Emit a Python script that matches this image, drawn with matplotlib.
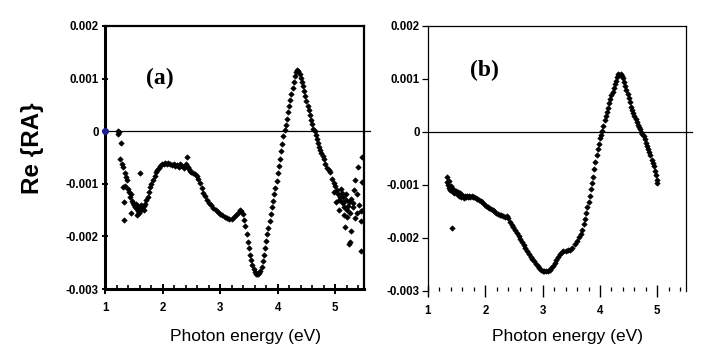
import matplotlib
matplotlib.use("Agg")
import matplotlib.pyplot as plt
from matplotlib.ticker import FixedLocator, MultipleLocator, FuncFormatter

# ---------------- data (Photon energy in eV, Re{RA} in units of 1e-3) --------
energy_a = [
    1.22, 1.23, 1.25, 1.28, 1.26, 1.30, 1.32, 1.35, 1.37, 1.38, 1.31, 1.34, 1.40,
    1.42, 1.43, 1.45, 1.47, 1.33, 1.50, 1.52, 1.53, 1.55, 1.57, 1.58, 1.60, 1.62,
    1.63, 1.65, 1.67, 1.68, 1.70, 1.72, 1.33, 1.61, 1.45, 1.49, 1.56, 1.59, 1.64,
    1.74, 1.76, 1.78, 1.80, 1.83, 1.86, 1.88, 1.90, 1.93, 1.96, 1.99, 2.02, 2.05,
    2.08, 2.10, 2.13, 2.16, 2.19, 2.22, 2.25, 2.28, 2.31, 2.34, 2.37, 2.40, 2.42,
    2.44, 2.46, 2.48, 2.50, 2.53, 2.56, 2.59, 2.62, 2.65, 2.68, 2.71, 2.74, 2.77,
    2.80, 2.84, 2.88, 2.92, 2.96, 3.00, 3.04, 3.08, 3.12, 3.16, 3.20, 3.24, 3.28,
    3.31, 3.34, 3.37, 3.40, 3.42, 3.44, 3.46, 3.48, 3.50, 3.52, 3.54, 3.56, 3.58,
    3.60, 3.62, 3.64, 3.66, 3.68, 3.70, 3.72, 3.74, 3.76, 3.78, 3.80, 3.82, 3.84,
    3.86, 3.88, 3.90, 3.92, 3.94, 3.96, 3.98, 4.00, 4.02, 4.04, 4.06, 4.08, 4.10,
    4.12, 4.14, 4.16, 4.18, 4.20, 4.22, 4.24, 4.26, 4.28, 4.30, 4.32, 4.34, 4.36,
    4.38, 4.40, 4.42, 4.44, 4.46, 4.48, 4.50, 4.52, 4.54, 4.56, 4.58, 4.60, 4.62,
    4.64, 4.66, 4.68, 4.70, 4.72, 4.74, 4.76, 4.78, 4.80, 4.83, 4.86, 4.89, 4.91,
    4.95, 4.97, 5.00, 5.03, 5.05, 5.07, 5.09, 5.11, 5.12, 5.14, 5.16, 5.18, 5.20,
    5.22, 5.24, 5.26, 5.28, 5.30, 5.31, 5.33, 5.35, 5.37, 5.40, 5.42, 5.44, 5.45,
    5.47, 5.47, 5.49, 5.20, 5.17, 5.26, 5.24, 5.44, 5.10, 5.06, 5.15, 5.38, 5.35,
    5.28, 5.02, 4.98, 5.13, 5.19,
]
rera_a = [
    0.00, -0.05, -0.02, -0.23, -0.52, -0.62, -0.68, -0.80, -0.88, -0.93, -1.06, -1.05, -1.10,
    -1.15, -1.25, -1.20, -1.32, -1.35, -1.40, -1.45, -1.38, -1.48, -1.42, -1.52, -1.45, -1.40,
    -1.50, -1.46, -1.42, -1.50, -1.38, -1.30, -1.68, -0.80, -1.55, -1.37, -1.60, -1.56, -1.44,
    -1.25, -1.15, -1.07, -1.00, -0.93, -0.85, -0.78, -0.74, -0.70, -0.66, -0.63, -0.62, -0.60,
    -0.62, -0.60, -0.63, -0.65, -0.62, -0.66, -0.64, -0.68, -0.63, -0.66, -0.70, -0.62, -0.50,
    -0.68, -0.72, -0.76, -0.78, -0.80, -0.82, -0.85, -0.90, -0.99, -1.08, -1.17, -1.24, -1.31,
    -1.36, -1.41, -1.46, -1.50, -1.54, -1.57, -1.60, -1.63, -1.65, -1.67, -1.66, -1.64, -1.60,
    -1.55, -1.50, -1.51, -1.58, -1.68, -1.80, -1.95, -2.10, -2.22, -2.35, -2.45, -2.55, -2.62,
    -2.68, -2.71, -2.72, -2.71, -2.70, -2.66, -2.58, -2.47, -2.35, -2.22, -2.08, -1.96, -1.84,
    -1.70, -1.58, -1.45, -1.32, -1.20, -1.08, -0.94, -0.80, -0.66, -0.52, -0.38, -0.24, -0.10,
    0.02, 0.12, 0.24, 0.36, 0.48, 0.60, 0.71, 0.83, 0.94, 1.04, 1.12, 1.17, 1.14,
    1.08, 1.02, 0.94, 0.85, 0.76, 0.66, 0.57, 0.48, 0.40, 0.31, 0.22, 0.14, 0.05,
    0.00, -0.08, -0.15, -0.22, -0.30, -0.36, -0.42, -0.48, -0.52, -0.62, -0.70, -0.74, -0.78,
    -0.90, -0.99, -1.05, -1.12, -1.20, -1.30, -1.26, -1.35, -1.18, -1.37, -1.45, -1.30, -1.50,
    -1.42, -1.35, -1.55, -1.28, -1.45, -1.37, -1.12, -0.93, -1.20, -0.69, -1.40, -1.70, -1.52,
    -0.50, -0.97, -1.50, -1.64, -1.83, -2.11, -2.15, -2.27, -1.10, -1.50, -1.60, -1.55, -1.65,
    -1.90, -1.35, -1.15, -1.25, -1.20,
]
origin_a = ([1.0], [0.0])

energy_b = [
    1.33, 1.34, 1.35, 1.36, 1.37, 1.38, 1.40, 1.42, 1.42, 1.44, 1.46, 1.48, 1.50,
    1.52, 1.54, 1.56, 1.58, 1.60, 1.62, 1.64, 1.66, 1.68, 1.70, 1.72, 1.74, 1.76,
    1.78, 1.80, 1.83, 1.86, 1.89, 1.92, 1.95, 1.98, 2.01, 2.04, 2.07, 2.10, 2.13,
    2.16, 2.19, 2.22, 2.25, 2.28, 2.31, 2.34, 2.37, 2.40, 2.43, 2.46, 2.49, 2.52,
    2.55, 2.58, 2.61, 2.64, 2.67, 2.70, 2.73, 2.76, 2.79, 2.82, 2.85, 2.88, 2.91,
    2.94, 2.97, 3.00, 3.03, 3.06, 3.09, 3.12, 3.15, 3.18, 3.21, 3.24, 3.27, 3.30,
    3.33, 3.36, 3.40, 3.44, 3.48, 3.52, 3.56, 3.60, 3.63, 3.66, 3.69, 3.72, 3.74,
    3.76, 3.78, 3.80, 3.82, 3.84, 3.86, 3.88, 3.90, 3.92, 3.94, 3.96, 3.98, 4.00,
    4.02, 4.04, 4.06, 4.08, 4.10, 4.12, 4.14, 4.16, 4.18, 4.20, 4.22, 4.24, 4.26,
    4.28, 4.30, 4.32, 4.34, 4.36, 4.38, 4.40, 4.42, 4.44, 4.46, 4.48, 4.50, 4.52,
    4.54, 4.56, 4.58, 4.60, 4.62, 4.64, 4.66, 4.68, 4.70, 4.72, 4.74, 4.76, 4.78,
    4.80, 4.82, 4.84, 4.86, 4.88, 4.90, 4.92, 4.94, 4.96, 4.98, 5.00, 5.00,
]
rera_b = [
    -0.85, -0.95, -1.00, -0.92, -1.05, -1.09, -1.02, -1.81, -1.12, -1.08, -1.15, -1.12, -1.17,
    -1.14, -1.20, -1.16, -1.22, -1.19, -1.24, -1.20, -1.23, -1.21, -1.22, -1.20, -1.22, -1.21,
    -1.22, -1.23, -1.24, -1.26, -1.28, -1.30, -1.33, -1.36, -1.39, -1.41, -1.44, -1.45, -1.48,
    -1.50, -1.52, -1.54, -1.56, -1.57, -1.58, -1.60, -1.59, -1.62, -1.70, -1.75, -1.80, -1.85,
    -1.91, -1.96, -2.02, -2.08, -2.13, -2.19, -2.24, -2.30, -2.35, -2.40, -2.44, -2.49, -2.53,
    -2.57, -2.60, -2.62, -2.63, -2.63, -2.62, -2.60, -2.57, -2.53, -2.48, -2.42, -2.36, -2.30,
    -2.26, -2.24, -2.24, -2.23, -2.22, -2.18, -2.12, -2.06, -1.99, -1.92, -1.84, -1.73, -1.64,
    -1.52, -1.42, -1.32, -1.20, -1.08, -0.96, -0.84, -0.70, -0.56, -0.44, -0.33, -0.22, -0.12,
    -0.05, 0.02, 0.12, 0.22, 0.30, 0.38, 0.46, 0.54, 0.62, 0.69, 0.76, 0.83, 0.90,
    0.97, 1.04, 1.10, 1.08, 1.10, 1.06, 1.02, 0.94, 0.87, 0.80, 0.72, 0.64, 0.57,
    0.48, 0.42, 0.36, 0.30, 0.24, 0.18, 0.13, 0.10, 0.06, 0.00, -0.04, -0.08, -0.14,
    -0.20, -0.26, -0.32, -0.38, -0.44, -0.52, -0.58, -0.65, -0.73, -0.82, -0.90, -0.96,
]

yticks = [0.002, 0.001, 0.0, -0.001, -0.002, -0.003]
ytick_labels = ["0.002", "0.001", "0", "-0.001", "-0.002", "-0.003"]
xticks = [1, 2, 3, 4, 5]
xtick_labels = ["1", "2", "3", "4", "5"]
panel_labels = ["(a)", "(b)"]
xlabel = "Photon energy (eV)"
ylabel = "Re {RA}"

# ---------------- figure ----------------------------------------------------
plt.rcParams["font.family"] = ["Liberation Sans", "DejaVu Sans"]
fig = plt.figure(figsize=(7.10, 3.54), dpi=100)

axA = fig.add_axes([0.1479, 0.1836, 0.3648, 0.7430])
axB = fig.add_axes([0.6028, 0.1780, 0.3634, 0.7486])

scale = 1e-3
for ax, E, R in [(axA, energy_a, rera_a), (axB, energy_b, rera_b)]:
    ax.set_xlim(1, 5.5)
    ax.set_ylim(-0.003, 0.002)
    ax.axhline(0, color="black", lw=0.9, xmin=0, xmax=1.025, clip_on=False, zorder=1)
    ax.plot(E, [r * scale for r in R], linestyle="none", marker="D", ms=2.8,
            mfc="black", mec="black", mew=0.4, zorder=3)
    ax.yaxis.set_major_locator(FixedLocator(yticks))
    ax.yaxis.set_major_formatter(FuncFormatter(
        lambda v, p: ytick_labels[min(range(len(yticks)), key=lambda i: abs(yticks[i] - v))]))
    ax.xaxis.set_major_locator(FixedLocator(xticks))
    ax.set_xticklabels(xtick_labels)
    ax.xaxis.set_minor_locator(MultipleLocator(0.2))
    for lab in ax.get_xticklabels() + ax.get_yticklabels():
        lab.set_fontweight("bold")
        lab.set_fontsize(8.3)

# panel (a): heavy frame
for s in axA.spines.values():
    s.set_linewidth(1.6)
axA.spines["bottom"].set_linewidth(2.2)
axA.spines["left"].set_linewidth(2.2)
axA.tick_params(axis="y", which="major", direction="inout", length=5, width=1.4, pad=2)
axA.tick_params(axis="x", which="major", direction="inout", length=7, width=1.4, pad=6)
axA.tick_params(axis="x", which="minor", direction="in", length=3, width=1.2)
axA.plot(*origin_a, linestyle="none", marker="o", ms=4, color="#1f1f8f",
         clip_on=False, zorder=4)

# panel (b): thin frame, no bottom line
for s in axB.spines.values():
    s.set_linewidth(0.9)
axB.spines["bottom"].set_visible(False)
axB.tick_params(axis="y", which="major", direction="out", length=4, width=0.9, pad=2)
axB.tick_params(axis="x", which="major", direction="inout", length=8, width=1.0, pad=6)
axB.tick_params(axis="x", which="minor", direction="in", length=3, width=0.9)

# panel labels
axA.text(1.95, 0.00101, panel_labels[0], family="Liberation Serif", fontweight="bold",
         fontsize=17, ha="center", va="center")
axB.text(1.99, 0.00117, panel_labels[1], family="Liberation Serif", fontweight="bold",
         fontsize=17, ha="center", va="center")

# axis titles
fig.text(245 / 710, 1 - 336 / 354, xlabel, ha="center", va="center", fontsize=12.5)
fig.text(568 / 710, 1 - 336 / 354, xlabel, ha="center", va="center", fontsize=12.5)
fig.text(33 / 710, 1 - 148 / 354, ylabel, ha="center", va="center", fontsize=17.5,
         fontweight="bold", rotation=90)

fig.savefig("out.png", dpi=100)
